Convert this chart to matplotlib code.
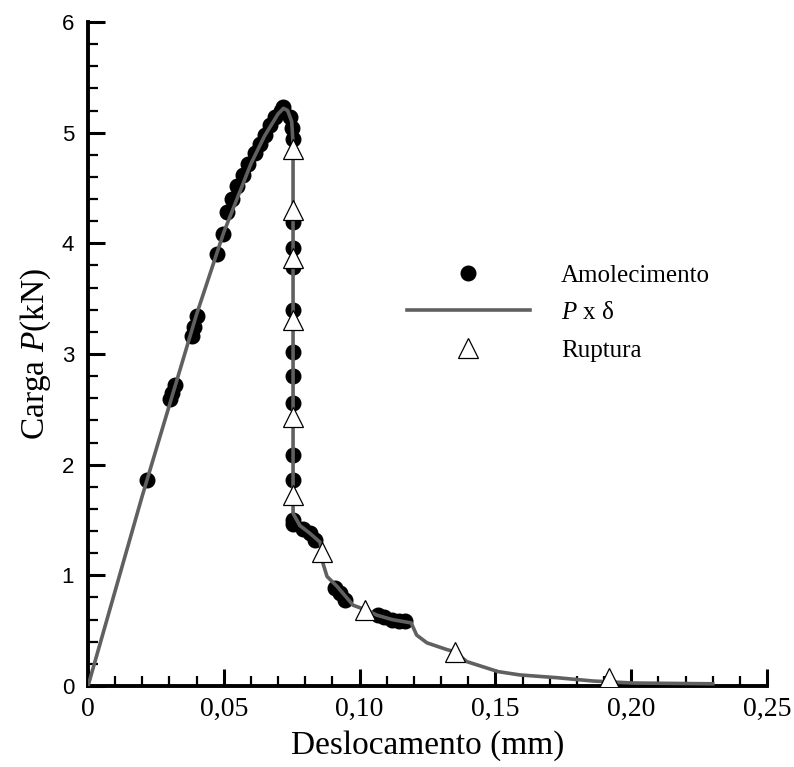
import matplotlib
matplotlib.use('Agg')
import matplotlib.pyplot as plt
from matplotlib.ticker import FixedLocator, MultipleLocator

plt.rcParams['mathtext.fontset'] = 'custom'
plt.rcParams['mathtext.rm'] = 'Liberation Serif'
plt.rcParams['mathtext.it'] = 'Liberation Serif:italic'

# curva P x delta
curva_x = [0.0, 0.020, 0.040, 0.050, 0.060, 0.065, 0.070, 0.072, 0.0735, 0.075, 0.0755,
           0.0755, 0.078, 0.0817, 0.0854, 0.0862, 0.0865, 0.088, 0.0917, 0.0976, 0.102,
           0.1064, 0.112, 0.119, 0.121, 0.1248, 0.132, 0.135, 0.1395, 0.151, 0.159,
           0.1727, 0.186, 0.2007, 0.230]
curva_y = [0.0, 1.72, 3.36, 4.10, 4.72, 4.97, 5.17, 5.22, 5.20, 5.10, 4.90,
           1.56, 1.45, 1.38, 1.30, 1.21, 1.11, 0.99, 0.90, 0.73, 0.69,
           0.64, 0.60, 0.57, 0.46, 0.39, 0.33, 0.31, 0.22, 0.13, 0.10,
           0.075, 0.045, 0.027, 0.02]

# pontos de amolecimento
amol_x = [0.0217, 0.0302, 0.031, 0.032, 0.0383, 0.039, 0.0401, 0.0475, 0.0497,
          0.051, 0.053, 0.055, 0.057, 0.059, 0.0615, 0.0633, 0.065, 0.067, 0.069, 0.071, 0.0718,
          0.0745, 0.075, 0.0755,
          0.0755, 0.0755, 0.0755, 0.0755, 0.0755, 0.0755, 0.0755, 0.0755, 0.0755, 0.0755,
          0.0755, 0.079, 0.0817, 0.0836,
          0.091, 0.0928, 0.0946,
          0.1068, 0.109, 0.112, 0.1145, 0.1167]
amol_y = [1.86, 2.59, 2.65, 2.72, 3.16, 3.24, 3.34, 3.90, 4.08,
          4.28, 4.40, 4.52, 4.62, 4.72, 4.82, 4.90, 4.98, 5.07, 5.14, 5.20, 5.23,
          5.14, 5.04, 4.94,
          4.19, 3.96, 3.79, 3.40, 3.02, 2.80, 2.56, 2.09, 1.86, 1.50,
          1.46, 1.42, 1.38, 1.32,
          0.89, 0.84, 0.78,
          0.64, 0.62, 0.60, 0.59, 0.59]

# pontos de ruptura
rupt_x = [0.0755, 0.0755, 0.0755, 0.0755, 0.0755, 0.0755, 0.0862, 0.102, 0.135, 0.192]
rupt_y = [4.85, 4.30, 3.87, 3.31, 2.43, 1.73, 1.21, 0.69, 0.31, 0.07]

xticks = [0, 0.05, 0.10, 0.15, 0.20, 0.25]
xticklabels = ['0', '0,05', '0,10', '0,15', '0,20', '0,25']
yticks = [0, 1, 2, 3, 4, 5, 6]

fig = plt.figure(figsize=(7.94, 7.67), dpi=100)
ax = fig.add_axes([88 / 794, 1 - 686 / 767, (767 - 88) / 794, (686 - 22) / 767])

ax.plot(amol_x, amol_y, 'o', color='black', markersize=10.5, zorder=2, label='Amolecimento')
ax.plot(curva_x, curva_y, '-', color='#606060', linewidth=2.6, zorder=3, label=r'$P$ x δ')
ax.plot(rupt_x, rupt_y, '^', markerfacecolor='white', markeredgecolor='black',
        markeredgewidth=0.9, markersize=15, linestyle='none', zorder=4, label='Ruptura')

ax.set_xlim(0, 0.25)
ax.set_ylim(0, 6)

ax.xaxis.set_major_locator(FixedLocator(xticks))
ax.set_xticklabels(xticklabels, family='Liberation Serif', fontsize=20)
ax.xaxis.set_minor_locator(MultipleLocator(0.01))
ax.yaxis.set_major_locator(FixedLocator(yticks))
ax.set_yticklabels([str(v) for v in yticks], family='Liberation Sans', fontsize=16)
ax.yaxis.set_minor_locator(MultipleLocator(0.2))

ax.tick_params(which='major', direction='in', length=12, width=2.2, pad=8)
ax.tick_params(which='minor', direction='in', length=7, width=1.6)
ax.tick_params(axis='y', which='major', pad=10)

for side in ['top', 'right']:
    ax.spines[side].set_visible(False)
for side in ['left', 'bottom']:
    ax.spines[side].set_linewidth(2.8)

ax.set_xlabel('Deslocamento (mm)', family='Liberation Serif', fontsize=24, labelpad=6)
ax.set_ylabel(r'Carga $P$(kN)', family='Liberation Serif', fontsize=24, labelpad=6)

handles, labels = ax.get_legend_handles_labels()
leg = ax.legend(handles, labels, loc='center left', bbox_to_anchor=(0.47, 0.562),
                frameon=False, borderpad=0, borderaxespad=0,
                prop={'family': 'Liberation Serif', 'size': 18},
                handlelength=4.9, handletextpad=1.25, labelspacing=0.6, markerscale=1.0)

fig.savefig('out.png', dpi=100)
